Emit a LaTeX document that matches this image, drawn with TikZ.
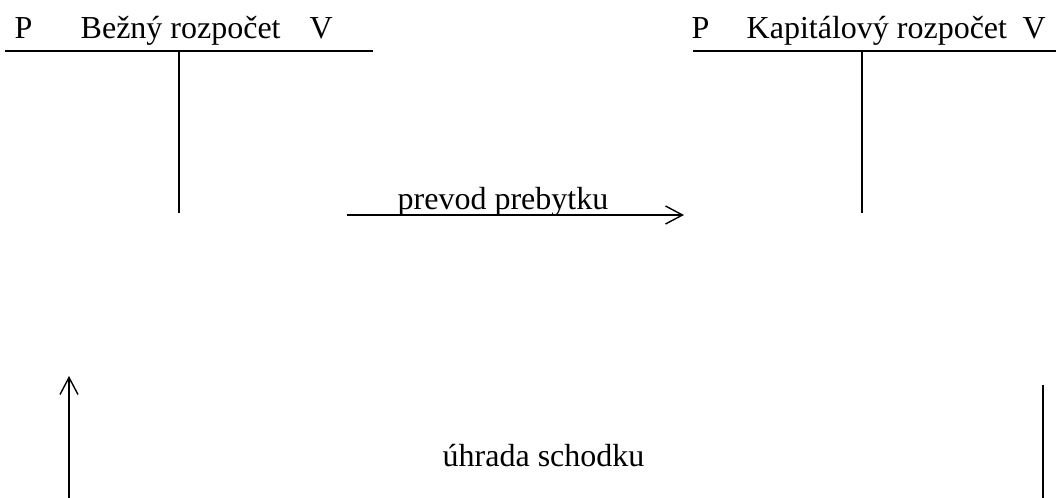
\documentclass[tikz,border=0pt]{standalone}
\usepackage{fontspec}
\setmainfont{Liberation Serif}
\usetikzlibrary{arrows.meta}
\begin{document}
\begin{tikzpicture}[x=0.5pt,y=-0.5pt,line width=0.7pt,
   txt/.style={inner sep=0pt,anchor=base west,font=\fontsize{16}{19}\selectfont},
   flow/.style={-{Straight Barb[length=8.5pt,width=9pt]}}]
   \useasboundingbox (0,0) rectangle (1056,498);

   % bezny rozpocet
   \node[txt] (p1) at (14,39) {P};
   \node[txt] (bez) at (80,39) {Bežný rozpočet};
   \node[txt] (v1) at (309,39) {V};
   \coordinate (bezL) at (5,51);
   \coordinate (bezR) at (373,51);
   \coordinate (bezT) at (179,51);
   \coordinate (bezB) at (179,213);
   \draw (bezL) -- (bezR);
   \draw (bezT) -- (bezB);

   % kapitalovy rozpocet
   \node[txt] (p2) at (691,39) {P};
   \node[txt] (kap) at (746,39) {Kapitálový rozpočet};
   \node[txt] (v2) at (1022,39) {V};
   \coordinate (kapL) at (693,51);
   \coordinate (kapR) at (1056,51);
   \coordinate (kapT) at (862,51);
   \coordinate (kapB) at (862,213);
   \draw (kapL) -- (kapR);
   \draw (kapT) -- (kapB);

   % prevod
   \node[txt] (prevod) at (397,209) {prevod prebytku};
   \coordinate (prevS) at (347,215);
   \coordinate (prevE) at (684,215);
   \draw[flow] (prevS) -- (prevE);

   % uhrada
   \node[txt] (uhrada) at (442,466) {úhrada schodku};
   \coordinate (uhrS) at (69,498);
   \coordinate (uhrE) at (69,376);
   \coordinate (uhrT) at (1043,385);
   \coordinate (uhrB) at (1043,498);
   \draw[flow] (uhrS) -- (uhrE);
   \draw (uhrT) -- (uhrB);

\end{tikzpicture}
\end{document}
